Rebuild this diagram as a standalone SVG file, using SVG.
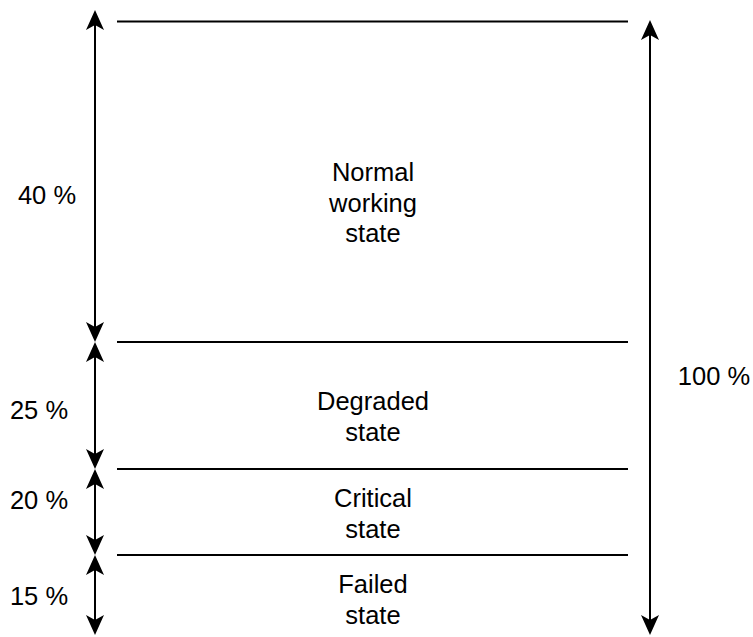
<svg xmlns="http://www.w3.org/2000/svg" width="753" height="637" viewBox="0 0 753 637">
<style>
.ln{stroke:#000;stroke-width:2;fill:none}
.ar{stroke:#000;stroke-width:2;fill:none;marker-start:url(#ah);marker-end:url(#ah)}
text{font-family:"Liberation Sans",Arial,sans-serif;font-size:25.5px;fill:#000;text-anchor:middle}
</style>
<defs>
<marker id="ah" markerUnits="userSpaceOnUse" viewBox="-6 -10 22 20" refX="0" refY="0" markerWidth="22" markerHeight="20" orient="auto-start-reverse" overflow="visible">
<path d="M15,0 L-5,-9 L0,0 L-5,9 Z" fill="#000"/>
</marker>
</defs>
<rect width="753" height="637" fill="#fff"/>
<g id="levels">
<line class="ln" x1="117" y1="21.5" x2="628" y2="21.5"/>
<line class="ln" x1="117" y1="342" x2="628" y2="342"/>
<line class="ln" x1="117" y1="469" x2="628" y2="469"/>
<line class="ln" x1="117" y1="555" x2="628" y2="555"/>
</g>
<g id="connectors">
<line class="ar" x1="95" y1="25" x2="95" y2="327"/>
<line class="ar" x1="95" y1="357" x2="95" y2="454"/>
<line class="ar" x1="95" y1="484" x2="95" y2="540"/>
<line class="ar" x1="95" y1="570" x2="95" y2="620"/>
<line class="ar" x1="650" y1="35" x2="650" y2="620"/>
</g>
<g id="normal"><text x="373" y="181">Normal</text><text x="373" y="211.5">working</text><text x="373" y="242">state</text></g>
<g id="degraded"><text x="373" y="410">Degraded</text><text x="373" y="441">state</text></g>
<g id="critical"><text x="373" y="507">Critical</text><text x="373" y="538">state</text></g>
<g id="failed"><text x="373" y="593">Failed</text><text x="373" y="624">state</text></g>
<g id="p40"><text x="47" y="204">40 %</text></g>
<g id="p25"><text x="39" y="419">25 %</text></g>
<g id="p20"><text x="39" y="509">20 %</text></g>
<g id="p15"><text x="39" y="605">15 %</text></g>
<g id="p100"><text x="714" y="385">100 %</text></g>
</svg>
